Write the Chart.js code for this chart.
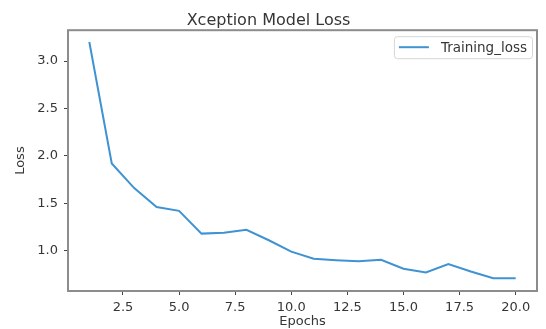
<!DOCTYPE html>
<html>
<head>
<meta charset="utf-8">
<script src="https://cdn.jsdelivr.net/npm/chart.js@4.4.1/dist/chart.umd.min.js"></script>
<style>
  html, body { margin: 0; padding: 0; background: #fff; }
  #wrap { width: 546px; height: 329px; }
</style>
</head>
<body>
<div id="wrap"><canvas id="c" width="546" height="329"></canvas></div>
<script>
const epochs = [1, 2, 3, 4, 5, 6, 7, 8, 9, 10, 11, 12, 13, 14, 15, 16, 17, 18, 19, 20];
const trainingLoss = [3.20, 1.92, 1.66, 1.46, 1.42, 1.18, 1.19, 1.22, 1.11, 0.99, 0.915, 0.90, 0.89, 0.905, 0.81, 0.77, 0.86, 0.78, 0.71, 0.71];
const xTicks = [2.5, 5.0, 7.5, 10.0, 12.5, 15.0, 17.5, 20.0];
const yTicks = [1.0, 1.5, 2.0, 2.5, 3.0];
const seriesLabel = 'Training_loss';
const titleText = 'Xception Model Loss';
const xLabel = 'Epochs';
const yLabel = 'Loss';

const FONT = 'DejaVu Sans';
const TXT = '#363636';
const LINE = '#3f93d2';

const framePlugin = {
  id: 'frame',
  afterDatasetsDraw(chart) {
    const {ctx, chartArea: a} = chart;
    ctx.save();
    ctx.strokeStyle = '#8c8c8c';
    ctx.lineWidth = 2;
    ctx.strokeRect(a.left, a.top, a.right - a.left, a.bottom - a.top);
    ctx.restore();
  }
};

const legendPlugin = {
  id: 'innerLegend',
  afterDraw(chart) {
    const {ctx, chartArea: a} = chart;
    const ds = chart.data.datasets[0];
    ctx.save();
    ctx.font = '13.5px "' + FONT + '"';
    const tw = ctx.measureText(ds.label).width;
    const boxW = 5 + 30 + 12 + tw + 5;
    const boxH = 22;
    const bx = a.right - 5 - boxW;
    const by = a.top + 6;
    ctx.fillStyle = 'rgba(255,255,255,0.9)';
    ctx.strokeStyle = '#d6d6d6';
    ctx.lineWidth = 1;
    ctx.beginPath();
    if (ctx.roundRect) ctx.roundRect(bx + 0.5, by + 0.5, boxW, boxH, 3);
    else ctx.rect(bx + 0.5, by + 0.5, boxW, boxH);
    ctx.fill();
    ctx.stroke();
    const cy = by + boxH / 2;
    ctx.strokeStyle = ds.borderColor;
    ctx.lineWidth = 2;
    ctx.beginPath();
    ctx.moveTo(bx + 5, cy);
    ctx.lineTo(bx + 35, cy);
    ctx.stroke();
    ctx.fillStyle = TXT;
    ctx.textBaseline = 'middle';
    ctx.textAlign = 'left';
    ctx.fillText(ds.label, bx + 47, cy + 1);
    ctx.restore();
  }
};

new Chart(document.getElementById('c'), {
  type: 'line',
  data: {
    datasets: [{
      label: seriesLabel,
      data: epochs.map((e, i) => ({x: e, y: trainingLoss[i]})),
      borderColor: LINE,
      backgroundColor: LINE,
      borderWidth: 2,
      pointRadius: 0,
      tension: 0,
      fill: false
    }]
  },
  options: {
    responsive: false,
    animation: false,
    events: [],
    layout: { padding: { left: 0, right: 9, top: 0, bottom: 0 } },
    plugins: {
      legend: { display: false },
      tooltip: { enabled: false },
      title: {
        display: true,
        text: titleText,
        color: TXT,
        font: { family: FONT, size: 16, weight: 'normal' },
        padding: { top: 11, bottom: 0 }
      }
    },
    scales: {
      x: {
        type: 'linear',
        min: 0.05,
        max: 20.95,
        afterFit(s) { s.height = 38; },
        afterBuildTicks(s) { s.ticks = xTicks.map(v => ({value: v})); },
        grid: { display: true, drawOnChartArea: false, drawTicks: true, tickLength: 4, color: '#444', tickWidth: 1 },
        border: { display: false },
        ticks: {
          color: TXT,
          font: { family: FONT, size: 13 },
          padding: 5,
          maxRotation: 0,
          autoSkip: false,
          callback: v => Number(v).toFixed(1)
        },
        title: {
          display: true,
          text: xLabel,
          color: TXT,
          font: { family: FONT, size: 13 },
          padding: { top: 0, bottom: 0 }
        }
      },
      y: {
        type: 'linear',
        min: 0.575,
        max: 3.325,
        afterFit(s) { s.width = 68; },
        afterBuildTicks(s) { s.ticks = yTicks.map(v => ({value: v})); },
        grid: { display: true, drawOnChartArea: false, drawTicks: true, tickLength: 4, color: '#444', tickWidth: 1 },
        border: { display: false },
        ticks: {
          color: TXT,
          font: { family: FONT, size: 13 },
          padding: 6,
          autoSkip: false,
          callback: v => Number(v).toFixed(1)
        },
        title: {
          display: true,
          text: yLabel,
          color: TXT,
          font: { family: FONT, size: 13 },
          padding: { top: 13, bottom: 0 }
        }
      }
    }
  },
  plugins: [framePlugin, legendPlugin]
});
</script>
</body>
</html>
